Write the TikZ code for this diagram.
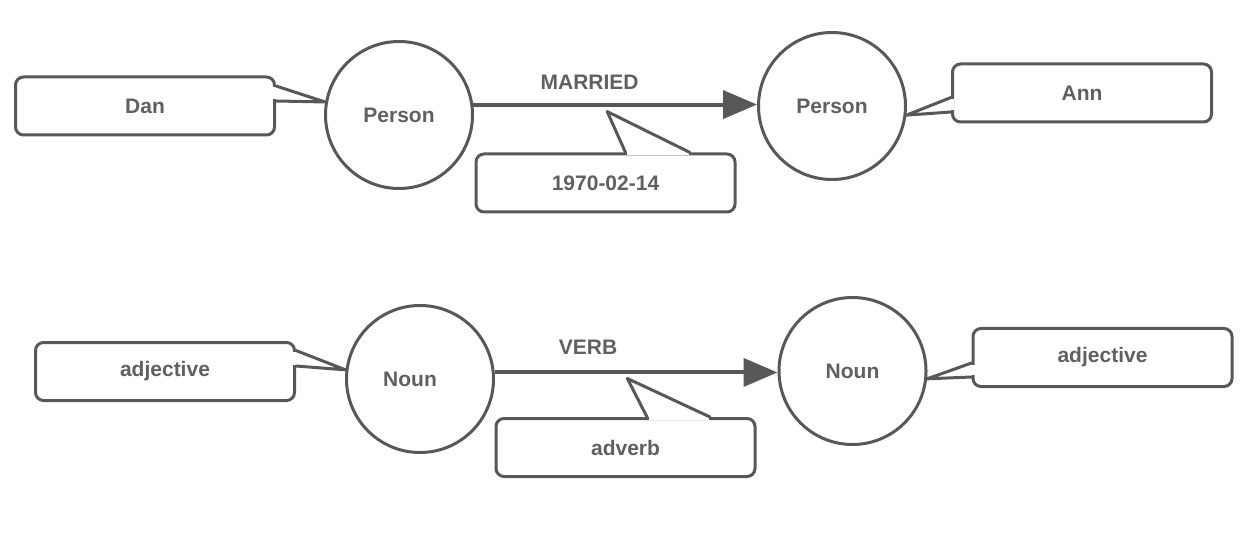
\documentclass[tikz,border=0pt]{standalone}
\usepackage{fontspec}
\setmainfont{Liberation Sans}
\usetikzlibrary{arrows.meta,calc}
\definecolor{edgec}{RGB}{88,88,88}
\definecolor{txtc}{RGB}{96,96,96}
\begin{document}
\begin{tikzpicture}[x=1pt,y=-1pt,
  lbl/.style={font=\bfseries\fontsize{21}{25}\selectfont, text=txtc},
  circ/.style={circle, draw=edgec, line width=3pt, minimum size=147pt, inner sep=0pt, fill=white, lbl},
  box/.style={draw=edgec, line width=3pt, rounded corners=8pt, minimum width=259pt, minimum height=58pt, inner sep=0pt, fill=white, lbl},
  ptr/.style={draw=edgec, line width=3pt, line join=round, line cap=round},
  rel/.style={draw=edgec, line width=4pt, -{Triangle[length=34pt,width=28pt]}}
]
\useasboundingbox (0,0) rectangle (1260,534);

% ---------- top row ----------
\node[circ] (p1) at (399,115) {Person};
\node[circ] (p2) at (832,106) {Person};
\node[box] (dan) at (145,106) {Dan};
\node[box] (ann) at (1082,93) {Ann};
\node[box] (date) at (605.5,183) {1970-02-14};

\draw[rel] (p1.8) -- node[lbl, pos=0.41, yshift=22.5pt] (lm) {MARRIED}
  coordinate[pos=0.472] (m1) (p1.8 -| p2.west);
\coordinate (t1) at ($(m1)+(0,7)$);

% Dan callout pointer
\fill[white] ($(dan.east)+(-3,-19)$) rectangle ($(dan.east)+(3,-7)$);
\draw[ptr] ($(dan.east)+(0,-20)$) -- (p1.170) -- ($(dan.east)+(0,-5)$);
% Ann callout pointer
\fill[white] ($(ann.west)+(-3,6)$) rectangle ($(ann.west)+(3,17)$);
\draw[ptr] ($(ann.west)+(0,4.5)$) -- (p2.-7.5) -- ($(ann.west)+(0,19)$);
% date callout pointer
\fill[white] ($(date.north)+(21.5,-3)$) rectangle ($(date.north)+(83,3)$);
\draw[ptr] ($(date.north)+(20,0)$) -- (t1) -- ($(date.north)+(84.5,0)$);

% ---------- bottom row ----------
\node[circ] (n1) at (420,379) {};
\node[lbl] (n1t) at ([xshift=-10pt]n1.center) {Noun};
\node[circ] (n2) at (852.5,371) {Noun};
\node[box] (adj1) at (165,371.5) {adjective};
\node[box] (adj2) at (1102.5,357.5) {adjective};
\node[box] (adv) at (625.5,447.5) {adverb};

\draw[rel] (n1.5) -- node[lbl, pos=0.33, yshift=25pt] (lv) {VERB}
  coordinate[pos=0.469] (m2) (n1.5 -| n2.west);
\coordinate (t2) at ($(m2)+(0,6)$);

% adjective (left) callout pointer
\fill[white] ($(adj1.east)+(-3,-19.5)$) rectangle ($(adj1.east)+(3,-7)$);
\draw[ptr] ($(adj1.east)+(0,-21)$) -- (n1.173) -- ($(adj1.east)+(0,-5.5)$);
% adjective (right) callout pointer
\fill[white] ($(adj2.west)+(-3,7)$) rectangle ($(adj2.west)+(3,17.5)$);
\draw[ptr] ($(adj2.west)+(0,5.5)$) -- (n2.-6.6) -- ($(adj2.west)+(0,19.5)$);
% adverb callout pointer
\fill[white] ($(adv.north)+(23,-3)$) rectangle ($(adv.north)+(83,3)$);
\draw[ptr] ($(adv.north)+(21.5,0)$) -- (t2) -- ($(adv.north)+(84.5,0)$);
\end{tikzpicture}
\end{document}
